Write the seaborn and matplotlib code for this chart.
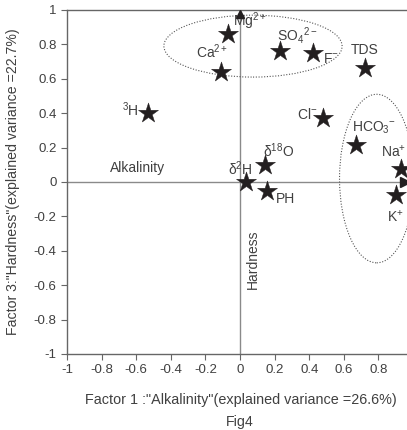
import matplotlib
matplotlib.use("Agg")
import matplotlib.pyplot as plt
import seaborn as sns
import pandas as pd
from matplotlib.patches import Ellipse

sns.set_theme(style="white")
plt.rcParams['font.family'] = ['Liberation Sans', 'DejaVu Sans']
plt.rcParams['mathtext.fontset'] = 'custom'
plt.rcParams['mathtext.rm'] = 'Liberation Sans'
plt.rcParams['mathtext.it'] = 'Liberation Sans'

# data: factor loadings
variables = ["Mg2+", "Ca2+", "SO42-", "F-", "TDS", "3H", "Cl-", "HCO3-", "Na+", "K+", "d18O", "d2H", "PH"]
factor1 = [-0.07, -0.11, 0.23, 0.42, 0.72, -0.53, 0.48, 0.67, 0.93, 0.90, 0.145, 0.035, 0.155]
factor3 = [0.86, 0.64, 0.76, 0.75, 0.66, 0.40, 0.37, 0.215, 0.075, -0.075, 0.10, 0.0, -0.05]

labels = ["Mg$^{2+}$", "Ca$^{2+}$", "SO$_4$$^{2-}$", "F$^{-}$", "TDS", "$^{3}$H", "Cl$^{-}$",
          "HCO$_3$$^{-}$", "Na$^{+}$", "K$^{+}$", "δ$^{18}$O", "δ$^{2}$H", "PH"]
label_x = [-0.04, -0.255, 0.214, 0.48, 0.64, -0.68, 0.33, 0.65, 0.815, 0.85, 0.13, -0.07, 0.21]
label_y = [0.935, 0.755, 0.85, 0.715, 0.77, 0.42, 0.39, 0.315, 0.175, -0.2, 0.18, 0.075, -0.10]

xticks = [-1, -0.8, -0.6, -0.4, -0.2, 0, 0.2, 0.4, 0.6, 0.8]
yticks = [-1, -0.8, -0.6, -0.4, -0.2, 0, 0.2, 0.4, 0.6, 0.8, 1]

df = pd.DataFrame({"f1": factor1, "f3": factor3, "var": variables})

txt = "#404040"
fig = plt.figure(figsize=(4.07, 4.30), dpi=100)
ax = fig.add_axes([67/407, 76/430, 340/407, 344/430])

ax.axvline(0, color="#8a8a8a", lw=1.0, zorder=1)
ax.axhline(0, color="#8a8a8a", lw=1.0, zorder=1)

sns.scatterplot(data=df, x="f1", y="f3", marker="*", s=230, color="#231f20",
                edgecolor="#231f20", linewidth=0.3, ax=ax, zorder=3, legend=False)

# arrow heads
ax.plot([0], [0.975], marker="^", color="#231f20", ms=6, zorder=4, clip_on=False)
ax.plot([0.955], [0], marker=">", color="#231f20", ms=7, zorder=4, clip_on=False)

for lab, lx, ly in zip(labels, label_x, label_y):
    ax.text(lx, ly, lab, fontsize=10, color=txt, ha="left", va="center")

ax.text(-0.75, 0.08, "Alkalinity", fontsize=10, color=txt, ha="left", va="center")
ax.text(0.075, -0.45, "Hardness", fontsize=10, color=txt, ha="center", va="center", rotation=90)

ax.add_patch(Ellipse((0.075, 0.79), 1.03, 0.36, fill=False, ls=(0, (1, 1.5)), lw=0.8, ec="#555555"))
ax.add_patch(Ellipse((0.79, 0.02), 0.43, 0.98, fill=False, ls=(0, (1, 1.5)), lw=0.8, ec="#555555"))

ax.set_xlim(-1, 0.965)
ax.set_ylim(-1, 1)
ax.set_xticks(xticks)
ax.set_xticklabels([f"{t:g}" for t in xticks])
ax.set_yticks(yticks)
ax.set_yticklabels([f"{t:g}" for t in yticks])
ax.tick_params(axis="both", direction="out", length=4, width=0.8, color="#666666",
               labelsize=9.5, labelcolor=txt, bottom=True, left=True)
ax.spines["right"].set_visible(False)
for side in ["left", "bottom", "top"]:
    ax.spines[side].set_color("#666666")
    ax.spines[side].set_linewidth(1.0)
ax.set_xlabel("")
ax.set_ylabel('Factor 3:"Hardness"(explained variance =22.7%)', fontsize=10.2, color=txt, labelpad=10)

fig.text(241/407, 1 - 400/430, 'Factor 1 :"Alkalinity"(explained variance =26.6%)', fontsize=10.4,
         color=txt, ha="center", va="center")
fig.text(240/407, 1 - 422/430, "Fig4", fontsize=10.2, color=txt, ha="center", va="center")

fig.savefig("out.png", dpi=100)
